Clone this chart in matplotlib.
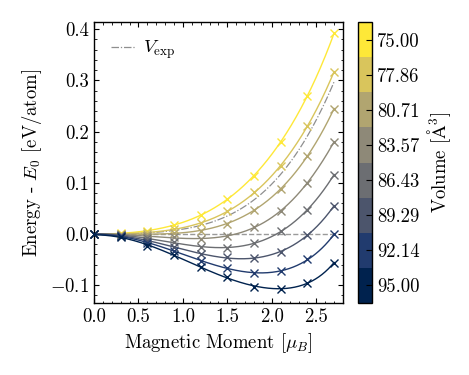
import numpy as np
import matplotlib
matplotlib.use("Agg")
import matplotlib.pyplot as plt
from matplotlib.colors import ListedColormap, BoundaryNorm
from matplotlib.cm import ScalarMappable
from matplotlib.ticker import FormatStrFormatter, MultipleLocator, AutoMinorLocator

plt.rcParams.update({
    "font.family": "cmr10",
    "mathtext.fontset": "cm",
    "axes.formatter.use_mathtext": True,
    "font.size": 13.5,
    "xtick.direction": "in",
    "ytick.direction": "in",
    "xtick.top": True,
    "ytick.right": True,
    "xtick.major.size": 3.5,
    "ytick.major.size": 3.5,
    "xtick.minor.size": 1.8,
    "ytick.minor.size": 1.8,
    "xtick.minor.visible": True,
    "ytick.minor.visible": True,
    "axes.linewidth": 1.0,
})

# ---- data ----
moments = [0.0, 0.3, 0.6, 0.9, 1.2, 1.5, 1.8, 2.1, 2.4, 2.7]
volumes = [75.00, 77.86, 80.71, 83.57, 86.43, 89.29, 92.14, 95.00]
e_v7500 = [0, 0.001, 0.006, 0.017, 0.037, 0.068, 0.114, 0.180, 0.270, 0.392]
e_v7786 = [0, 0.000, 0.003, 0.009, 0.021, 0.044, 0.081, 0.133, 0.211, 0.317]
e_v8071 = [0, -0.001, 0.000, 0.002, 0.006, 0.020, 0.047, 0.088, 0.152, 0.245]
e_v8357 = [0, -0.002, -0.004, -0.007, -0.010, -0.004, 0.013, 0.045, 0.100, 0.180]
e_v8643 = [0, -0.003, -0.008, -0.016, -0.026, -0.027, -0.018, 0.005, 0.047, 0.116]
e_v8929 = [0, -0.004, -0.013, -0.025, -0.040, -0.046, -0.047, -0.035, -0.002, 0.055]
e_v9214 = [0, -0.005, -0.018, -0.033, -0.053, -0.066, -0.076, -0.073, -0.050, -0.001]
e_v9500 = [0, -0.007, -0.024, -0.042, -0.064, -0.085, -0.103, -0.107, -0.096, -0.056]
e_vexp = [0, 0.000, 0.002, 0.007, 0.016, 0.035, 0.068, 0.115, 0.192, 0.297]
energies = [e_v7500, e_v7786, e_v8071, e_v8357, e_v8643, e_v8929, e_v9214, e_v9500]

fig = plt.figure(figsize=(4.69, 3.75), dpi=100)
ax = fig.add_axes([0.2004, 0.192, 0.5309, 0.7493])
cax = fig.add_axes([0.7633, 0.192, 0.0299, 0.7493])

n = len(volumes)
cmap = ListedColormap([plt.cm.cividis(1 - i / (n - 1)) for i in range(n)])
vol = np.array(volumes)
edges = np.concatenate([[vol[0] - (vol[1] - vol[0]) / 2],
                        (vol[:-1] + vol[1:]) / 2,
                        [vol[-1] + (vol[-1] - vol[-2]) / 2]])
norm = BoundaryNorm(edges, cmap.N)

m = np.array(moments)
mf = np.linspace(0, m.max(), 300)


def fit_curve(e):
    coef = np.polyfit(m ** 2, np.array(e), 4)
    return np.polyval(coef, mf ** 2)


ax.plot([0, m.max()], [0, 0], ls="--", color="#9a9a9a", lw=1.0, zorder=1)
for v, e in zip(volumes, energies):
    c = cmap(norm(v))
    ax.plot(mf, fit_curve(e), color=c, lw=1.0, zorder=3)
    ax.plot(m, e, ls="none", marker="x", ms=5.5, mew=1.0, color=c, zorder=3,
            clip_on=False)
ax.plot(mf, fit_curve(e_vexp), ls=(0, (6, 1.5, 1, 1.5)), color="#8f8f8f", lw=0.9,
        zorder=2, label=r"$V_{\rm exp}$")

ax.set_xlim(0, 2.8)
ax.set_ylim(-0.135, 0.414)
ax.xaxis.set_major_locator(MultipleLocator(0.5))
ax.xaxis.set_minor_locator(AutoMinorLocator(5))
ax.yaxis.set_minor_locator(AutoMinorLocator(5))
ax.xaxis.set_major_formatter(FormatStrFormatter("%.1f"))
ax.set_yticks([-0.1, 0.0, 0.1, 0.2, 0.3, 0.4])
ax.set_yticklabels([r"$-0.1$", "0.0", "0.1", "0.2", "0.3", "0.4"])
ax.yaxis.set_minor_locator(AutoMinorLocator(5))
ax.set_xlabel(r"Magnetic Moment [$\mu_B$]")
ax.set_ylabel(r"Energy - $E_0$ [eV/atom]")
ax.legend(loc="upper left", frameon=False, handlelength=1.3, handletextpad=0.4,
          fontsize=13.5)

sm = ScalarMappable(norm=norm, cmap=cmap)
cb = fig.colorbar(sm, cax=cax, ticks=volumes)
cb.ax.invert_yaxis()
cb.ax.yaxis.set_major_formatter(FormatStrFormatter("%.2f"))
cb.ax.tick_params(which="major", direction="in", length=4, right=True, left=False)
cb.ax.minorticks_off()
cb.outline.set_linewidth(1.0)
cb.set_label(r"Volume [$\mathrm{\AA}^3$]")

fig.savefig("out.png", dpi=100)
